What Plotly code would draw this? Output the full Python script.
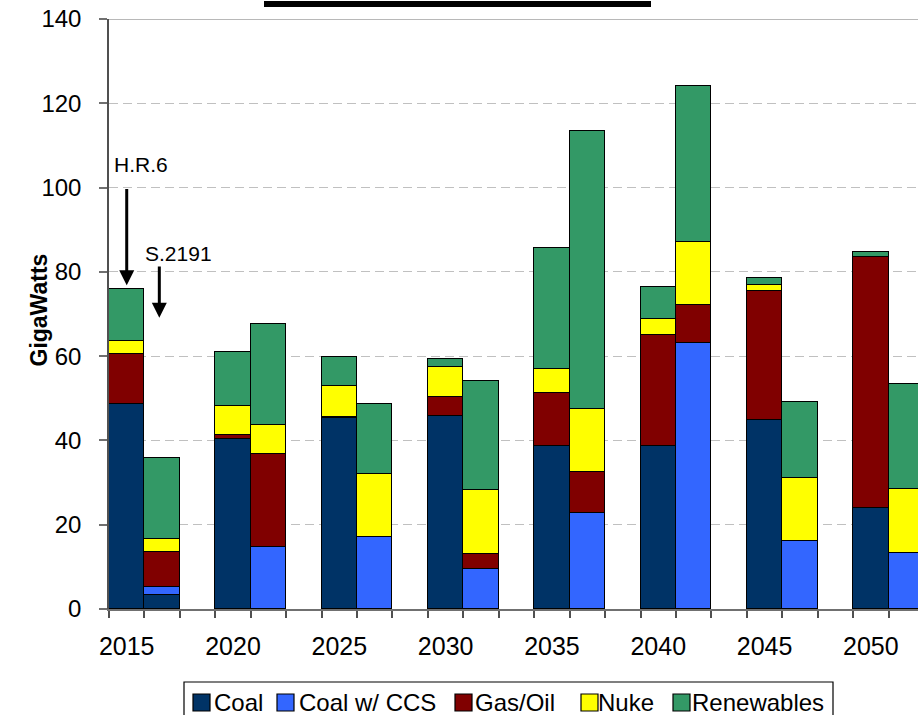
import plotly.graph_objects as go

# Capacity additions (GW) per five-year period, two policy cases side by side
years = [2015, 2020, 2025, 2030, 2035, 2040, 2045, 2050]
cases = ["H.R.6", "S.2191"]

# H.R.6 case
hr6_coal = [48.6, 40.4, 45.3, 45.8, 38.7, 38.7, 44.9, 24.0]
hr6_ccs = [0, 0, 0, 0, 0, 0, 0, 0]
hr6_gas = [11.9, 0.8, 0.3, 4.6, 12.6, 26.2, 30.6, 59.5]
hr6_nuke = [3.0, 7.0, 7.2, 7.0, 5.7, 3.9, 1.5, 0]
hr6_renew = [12.5, 12.8, 7.1, 1.9, 28.7, 7.7, 1.5, 1.2]

# S.2191 case
s2191_coal = [3.4, 0, 0, 0, 0, 0, 0, 0]
s2191_ccs = [1.9, 14.8, 17.0, 9.6, 22.7, 63.2, 16.2, 13.2]
s2191_gas = [8.2, 22.0, 0, 3.5, 9.7, 8.9, 0, 0]
s2191_nuke = [3.0, 6.8, 15.0, 15.1, 15.0, 15.0, 14.9, 15.2]
s2191_renew = [19.3, 24.0, 16.6, 26.0, 66.1, 37.1, 18.1, 25.0]

fuels = ["Coal", "Coal w/ CCS", "Gas/Oil", "Nuke", "Renewables"]
colors = ["#003366", "#3366FF", "#800000", "#FFFF00", "#339966"]
series = [
    (hr6_coal, s2191_coal),
    (hr6_ccs, s2191_ccs),
    (hr6_gas, s2191_gas),
    (hr6_nuke, s2191_nuke),
    (hr6_renew, s2191_renew),
]

FONT = "Arial, Liberation Sans, sans-serif"
W, H = 918, 715
L, R, T, B = 109, 0, 19, 106
PW, PH = W - L - R, H - T - B


def px_x(px):
    # horizontal pixel -> paper fraction of the plot area
    return (px - L) / PW


def px_y(py):
    # vertical pixel -> paper fraction of the plot area
    return (H - B - py) / PH


# each year takes three slots: H.R.6 bar, S.2191 bar, empty gap
xpos = []
for i in range(len(years)):
    xpos += [3 * i, 3 * i + 1]

fig = go.Figure()
for name, color, (a, b) in zip(fuels, colors, series):
    vals = []
    for va, vb in zip(a, b):
        vals += [va if va else None, vb if vb else None]
    fig.add_trace(go.Bar(
        x=xpos, y=vals, name=name, width=1.0, showlegend=False,
        marker=dict(color=color, line=dict(color="#000000", width=1.5)),
    ))

# case markers above the first pair of bars
hr6_total = hr6_coal[0] + hr6_ccs[0] + hr6_gas[0] + hr6_nuke[0] + hr6_renew[0]
arrow_specs = [
    # bar x, arrow tip, arrow tail, label x, label y, label
    (0.0, hr6_total + 0.8, 100.0, 0.39, 105.4, cases[0]),
    (0.92, 69.1, 81.6, 1.46, 84.4, cases[1]),
]
for xb, tip, tail, tx, ty, label in arrow_specs:
    fig.add_annotation(
        x=xb, y=tip, ax=xb, ay=tail, xref="x", yref="y", axref="x", ayref="y",
        text="", showarrow=True, arrowhead=2, arrowsize=1.0, arrowwidth=3,
        arrowcolor="#000000", standoff=0,
    )
    fig.add_annotation(
        x=tx, y=ty, xref="x", yref="y", text=label, showarrow=False,
        font=dict(family=FONT, size=21, color="#000000"),
    )

# y-axis title
fig.add_annotation(
    x=px_x(23), y=px_y(310.5), xref="paper", yref="paper", text="<b>GigaWatts</b>",
    textangle=-90, showarrow=False, font=dict(family=FONT, size=23, color="#000000"),
)

# title underline and top frame line
fig.add_shape(type="line", xref="paper", yref="paper", x0=px_x(264), x1=px_x(651),
              y0=px_y(4), y1=px_y(4), line=dict(color="#000000", width=6))
fig.add_shape(type="line", xref="paper", yref="y", x0=0, x1=1, y0=140, y1=140,
              line=dict(color="#A0A0A0", width=1.5))

# boxed legend below the axis: frame, colour keys and labels
fig.add_shape(type="rect", xref="paper", yref="paper",
              x0=px_x(184), x1=px_x(833), y0=px_y(730), y1=px_y(682),
              line=dict(color="#000000", width=1.2), fillcolor="rgba(0,0,0,0)")
key_left = [193, 277, 455, 581, 673]
label_left = [212, 297, 473, 596, 690]
KEY = 17
KEY_MID = 702.5
for name, color, kx, lx in zip(fuels, colors, key_left, label_left):
    fig.add_shape(type="rect", xref="paper", yref="paper",
                  x0=px_x(kx), x1=px_x(kx + KEY),
                  y0=px_y(KEY_MID + KEY / 2), y1=px_y(KEY_MID - KEY / 2),
                  line=dict(color="#000000", width=1.2), fillcolor=color)
    fig.add_annotation(
        x=px_x(lx), y=px_y(KEY_MID), xref="paper", yref="paper", text=name,
        xanchor="left", yanchor="middle", showarrow=False,
        font=dict(family=FONT, size=24, color="#000000"),
    )

fig.update_layout(
    width=W, height=H,
    margin=dict(l=L, r=R, t=T, b=B, autoexpand=False),
    barmode="stack", bargap=0,
    plot_bgcolor="#FFFFFF", paper_bgcolor="#FFFFFF",
    font=dict(family=FONT, size=22, color="#000000"),
    showlegend=False,
)
fig.update_xaxes(
    range=[-0.5, 22.33], tickmode="array",
    tickvals=[3 * i for i in range(len(years))], ticktext=[str(y) for y in years],
    ticks="", showgrid=False, zeroline=False,
    showline=True, linecolor="#707070", linewidth=1.5,
    minor=dict(ticks="outside", tick0=0.5, dtick=1, ticklen=7, tickcolor="#505050",
               tickwidth=1.5, showgrid=False),
    tickfont=dict(family=FONT, size=25), ticklabelstandoff=14,
)
fig.update_yaxes(
    range=[0, 140], dtick=20, tick0=0,
    showgrid=True, gridcolor="#C0C0C0", griddash="9px,5px", gridwidth=1,
    zeroline=False, showline=True, linecolor="#505050", linewidth=1.5,
    ticks="outside", ticklen=8, tickcolor="#707070", tickwidth=1.5,
    tickfont=dict(family=FONT, size=24), ticklabelstandoff=13,
)

fig.write_html("out.html")
